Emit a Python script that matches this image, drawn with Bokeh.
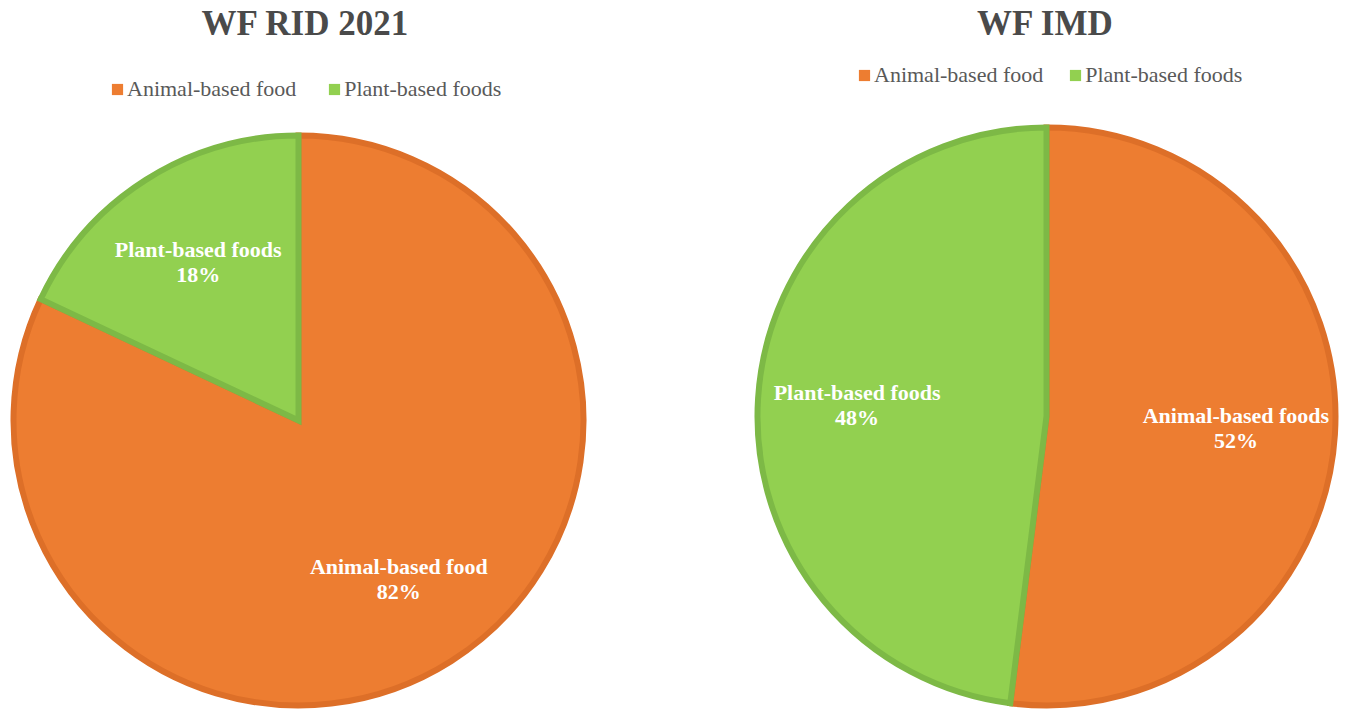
import math
from bokeh.plotting import figure
from bokeh.models import Range1d, Legend, LegendItem, ColumnDataSource
from bokeh.core.properties import value
from bokeh.embed import file_html
from bokeh.resources import INLINE

# ---- data ----
titles = ["WF RID 2021", "WF IMD"]
categories_left = ["Animal-based food", "Plant-based foods"]
values_left = [82, 18]
categories_right = ["Animal-based foods", "Plant-based foods"]
values_right = [52, 48]
legend_labels = ["Animal-based food", "Plant-based foods"]

# ---- style / layout ----
fill_colors = ["#ED7D31", "#92D050"]
line_colors = ["#DD6F28", "#7DB946"]
text_gray = "#595959"
title_gray = "#4a4a4a"
SERIF = "Liberation Serif"

W, H = 1346, 712
pies = [
    dict(title=titles[0], cats=categories_left, vals=values_left,
         cx=298, cy=H - 420, r=288, title_xy=(305, H - 23),
         legend_loc=(110, H - 102), legend_spacing=31),
    dict(title=titles[1], cats=categories_right, vals=values_right,
         cx=1046, cy=H - 416, r=292, title_xy=(1045, H - 23),
         legend_loc=(857, H - 88), legend_spacing=25),
]

p = figure(width=W, height=H, x_range=Range1d(0, W), y_range=Range1d(0, H),
           output_backend="svg", toolbar_location=None,
           x_axis_type=None, y_axis_type=None, min_border=0)
p.grid.visible = False
p.outline_line_color = None
p.background_fill_color = "white"
p.border_fill_color = "white"

for pie in pies:
    vals = pie["vals"]
    total = float(sum(vals))
    starts, ends, lx, ly = [], [], [], []
    cum = 0.0
    for v in vals:
        a0 = math.pi / 2 - 2 * math.pi * cum / total
        cum += v
        a1 = math.pi / 2 - 2 * math.pi * cum / total
        starts.append(a0)
        ends.append(a1)
        mid = (a0 + a1) / 2
        lx.append(pie["cx"] + 0.65 * pie["r"] * math.cos(mid))
        ly.append(pie["cy"] + 0.65 * pie["r"] * math.sin(mid))
    src = ColumnDataSource(dict(
        start=starts, end=ends, fill=fill_colors[:len(vals)],
        line=line_colors[:len(vals)], cat=pie["cats"],
        pct=[f"{round(100 * v / total)}%" for v in vals],
        lx=lx, ly1=[y + 12.5 for y in ly], ly2=[y - 12.5 for y in ly]))

    # legend proxies (zero-size, hidden under the pie)
    items = []
    for lab, c in zip(legend_labels, fill_colors):
        proxy = p.quad(left=[pie["cx"]], right=[pie["cx"]], top=[pie["cy"]],
                       bottom=[pie["cy"]], fill_color=c, line_color=None)
        items.append(LegendItem(label=lab, renderers=[proxy]))

    p.wedge(x=pie["cx"], y=pie["cy"], radius=pie["r"] - 3,
            start_angle="start", end_angle="end", direction="clock",
            fill_color="fill", line_color="line", line_width=6,
            line_join="miter", source=src)
    for col in ("ly1", "ly2"):
        p.text(x="lx", y=col, text="cat" if col == "ly1" else "pct",
               source=src, text_color="white", text_font=value(SERIF),
               text_font_style="bold", text_font_size="22px",
               text_align="center", text_baseline="middle")
    # title
    p.text(x=[pie["title_xy"][0]], y=[pie["title_xy"][1]], text=[pie["title"]],
           text_color=title_gray, text_font=value(SERIF), text_font_style="bold",
           text_font_size="35px", text_align="center", text_baseline="middle")
    # legend
    leg = Legend(items=items, orientation="horizontal",
                 location=pie["legend_loc"], glyph_width=14, glyph_height=14,
                 label_standoff=3, spacing=pie["legend_spacing"], padding=0,
                 margin=0, label_height=22,
                 label_text_font=SERIF, label_text_font_size="22px",
                 label_text_color=text_gray, border_line_color=None,
                 background_fill_alpha=0)
    p.add_layout(leg, "center")

open("out.html", "w").write(file_html(p, INLINE))
